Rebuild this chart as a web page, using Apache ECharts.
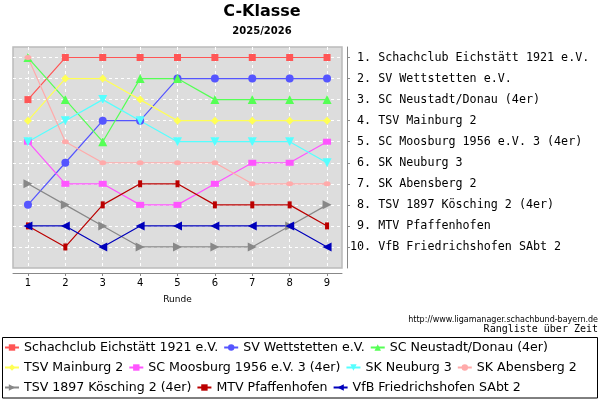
<!DOCTYPE html>
<html>
<head>
<meta charset="utf-8">
<script src="https://cdn.jsdelivr.net/npm/echarts@6.0.0/dist/echarts.min.js"></script>
<style>
  html, body { margin: 0; padding: 0; background: #fff; }
  #chart { width: 600px; height: 400px; }
</style>
</head>
<body>
<div id="chart"></div>
<script>
// Runden und Platzierungen (Platz pro Runde)
var rounds = [1, 2, 3, 4, 5, 6, 7, 8, 9];
var ranks = [1, 2, 3, 4, 5, 6, 7, 8, 9, 10];

var teams = [
    'Schachclub Eichstätt 1921 e.V.',
    'SV Wettstetten e.V.',
    'SC Neustadt/Donau (4er)',
    'TSV Mainburg 2',
    'SC Moosburg 1956 e.V. 3 (4er)',
    'SK Neuburg 3',
    'SK Abensberg 2',
    'TSV 1897 Kösching 2 (4er)',
    'MTV Pfaffenhofen',
    'VfB Friedrichshofen SAbt 2'
];

var eichstaett     = [3, 1, 1, 1, 1, 1, 1, 1, 1];
var wettstetten    = [8, 6, 4, 4, 2, 2, 2, 2, 2];
var neustadt       = [1, 3, 5, 2, 2, 3, 3, 3, 3];
var mainburg       = [4, 2, 2, 3, 4, 4, 4, 4, 4];
var moosburg       = [5, 7, 7, 8, 8, 7, 6, 6, 5];
var neuburg        = [5, 4, 3, 4, 5, 5, 5, 5, 6];
var abensberg      = [1, 5, 6, 6, 6, 6, 7, 7, 7];
var koesching      = [7, 8, 9, 10, 10, 10, 10, 9, 8];
var pfaffenhofen   = [9, 10, 8, 7, 7, 8, 8, 8, 9];
var friedrichshofen = [9, 9, 10, 9, 9, 9, 9, 9, 10];

var values = [eichstaett, wettstetten, neustadt, mainburg, moosburg,
    neuburg, abensberg, koesching, pfaffenhofen, friedrichshofen];

// Tabelle rechts: Endstand
var rankLabels = ranks.map(function (r, i) {
    var n = String(r) + '.';
    if (n.length < 3) n = ' ' + n;
    return n + ' ' + teams[i];
});

var styles = [
    { color: '#ff5555', symbol: 'rect', size: 7, rotate: 0 },
    { color: '#5555ff', symbol: 'circle', size: 8, rotate: 0 },
    { color: '#55ff55', symbol: 'triangle', size: 9, rotate: 0 },
    { color: '#ffff55', symbol: 'diamond', size: 8, rotate: 0 },
    { color: '#ff55ff', symbol: 'rect', size: [8, 6], rotate: 0 },
    { color: '#55ffff', symbol: 'triangle', size: 9, rotate: 180 },
    { color: '#ffaaaa', symbol: 'circle', size: [7, 5], rotate: 0 },
    { color: '#888888', symbol: 'triangle', size: 9, rotate: -90 },
    { color: '#bb0000', symbol: 'rect', size: [4, 7], rotate: 0 },
    { color: '#0000bb', symbol: 'triangle', size: 9, rotate: 90 }
];

var series = teams.map(function (name, i) {
    var s = styles[i];
    return {
        name: name,
        type: 'line',
        data: rounds.map(function (r, j) { return [r, values[i][j]]; }),
        symbol: s.symbol,
        symbolSize: s.size,
        symbolRotate: s.rotate,
        showAllSymbol: true,
        lineStyle: { color: s.color, width: 1.2 },
        itemStyle: { color: s.color },
        emphasis: { disabled: true },
        animation: false
    };
});

var legendData = [
    teams[0], teams[1], teams[2], '',
    teams[3], teams[4], teams[5], teams[6], '',
    teams[7], teams[8], teams[9]
];

var myChart = echarts.init(document.getElementById('chart'));
myChart.setOption({
    animation: false,
    title: [{
        text: 'C-Klasse',
        subtext: '2025/2026',
        left: 262,
        top: 3,
        padding: 0,
        textAlign: 'center',
        itemGap: 4,
        textStyle: { fontFamily: 'DejaVu Sans', fontSize: 16, fontWeight: 'bold', color: '#000', lineHeight: 18 },
        subtextStyle: { fontFamily: 'DejaVu Sans', fontSize: 10, fontWeight: 'bold', color: '#000', lineHeight: 12 }
    }, {
        text: 'http://www.ligamanager.schachbund-bayern.de',
        right: 2,
        top: 315,
        padding: 0,
        textStyle: { fontFamily: 'DejaVu Sans', fontSize: 8, fontWeight: 'normal', color: '#000', lineHeight: 10 }
    }, {
        text: 'Rangliste über Zeit',
        right: 2,
        top: 323,
        padding: 0,
        textStyle: { fontFamily: 'DejaVu Sans Mono', fontSize: 10, fontWeight: 'normal', color: '#000', lineHeight: 12 }
    }],
    graphic: [{
        type: 'rect',
        shape: { x: 2.5, y: 337.5, width: 595, height: 60.5 },
        style: { fill: 'none', stroke: '#000', lineWidth: 1 },
        silent: true
    }],
    legend: {
        data: legendData,
        left: 2,
        top: 340,
        width: 594,
        padding: [0, 2],
        itemGap: 5,
        itemWidth: 14,
        itemHeight: 8,
        textStyle: { fontFamily: 'DejaVu Sans', fontSize: 12.6, color: '#000', lineHeight: 15 },
        selectedMode: false
    },
    grid: {
        left: 13,
        right: 258,
        top: 47,
        bottom: 132,
        show: true,
        backgroundColor: '#dddddd',
        borderColor: '#bbbbbb',
        borderWidth: 1.5
    },
    xAxis: {
        type: 'value',
        min: 0.6,
        max: 9.4,
        offset: 5,
        name: 'Runde',
        nameLocation: 'middle',
        nameGap: 22,
        nameTextStyle: { fontFamily: 'DejaVu Sans', fontSize: 9, color: '#000' },
        axisLine: { show: true, lineStyle: { color: '#888888', width: 1 } },
        axisTick: { show: true, length: 3, customValues: rounds, lineStyle: { color: '#888888' } },
        axisLabel: {
            customValues: rounds,
            margin: 5,
            fontFamily: 'DejaVu Sans',
            fontSize: 10,
            color: '#000'
        },
        splitLine: { show: true, lineStyle: { color: '#ffffff', type: [3, 3], width: 1 } }
    },
    yAxis: {
        type: 'value',
        inverse: true,
        min: 0.5,
        max: 11,
        position: 'right',
        offset: 5,
        axisLine: { show: true, lineStyle: { color: '#888888', width: 1 } },
        axisTick: { show: true, length: 3, customValues: ranks, lineStyle: { color: '#888888' } },
        axisLabel: {
            customValues: ranks,
            margin: 3,
            align: 'left',
            fontFamily: 'DejaVu Sans Mono',
            fontSize: 11.7,
            color: '#000',
            formatter: function (v) { return rankLabels[v - 1] || ''; }
        },
        splitLine: { show: true, lineStyle: { color: '#ffffff', type: [3, 3], width: 1 } }
    },
    series: series
});
</script>
</body>
</html>
